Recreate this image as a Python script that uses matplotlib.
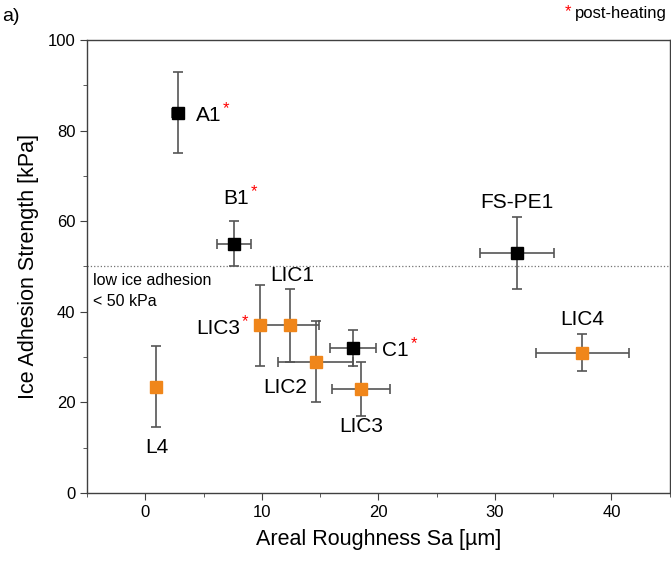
import numpy as np
import matplotlib
matplotlib.use("Agg")
import matplotlib.pyplot as plt
from matplotlib.ticker import MultipleLocator

plt.rcParams['font.family'] = ['Liberation Sans', 'DejaVu Sans']

# --- data ------------------------------------------------------------------
# black squares: reference surfaces
blk_names = ["A1", "B1", "C1", "FS-PE1"]
blk_x     = [2.8, 7.6, 17.8, 31.9]
blk_xerr  = [0.5, 1.5, 2.0, 3.2]
blk_y     = [84.0, 55.0, 32.0, 53.0]
blk_yerr  = [9.0, 5.0, 4.0, 8.0]

# orange squares: LIC / L samples
org_names = ["L4", "LIC3", "LIC1", "LIC2", "LIC3", "LIC4"]
org_x     = [0.9, 9.8, 12.4, 14.6, 18.5, 37.5]
org_xerr  = [0.3, 0.4, 2.5, 3.2, 2.5, 4.0]
org_y     = [23.5, 37.0, 37.0, 29.0, 23.0, 31.0]
org_yerr  = [9.0, 9.0, 8.0, 9.0, 6.0, 4.0]

THRESH = 50

COL_ORG = "#f0861a"
COL_ERR = "#555555"

fig = plt.figure(figsize=(6.71, 5.64), dpi=100)
ax = fig.add_axes([0.130, 0.126, 0.868, 0.803])

ax.errorbar(org_x, org_y, xerr=org_xerr, yerr=org_yerr, fmt="s", ms=9,
            mfc=COL_ORG, mec=COL_ORG, ecolor=COL_ERR, elinewidth=1.2,
            capsize=3.5, capthick=1.2, zorder=3)
ax.errorbar(blk_x, blk_y, xerr=blk_xerr, yerr=blk_yerr, fmt="s", ms=9,
            mfc="black", mec="black", ecolor=COL_ERR, elinewidth=1.2,
            capsize=3.5, capthick=1.2, zorder=3)

ax.axhline(THRESH, color="0.45", ls=":", lw=0.9, zorder=1)
ax.text(-4.5, 41.3, "low ice adhesion\n< 50 kPa", fontsize=11.5,
        va="baseline", ha="left", linespacing=1.45)

# point labels: (text, x, baseline y, ha, starred)
FS = 15
labels = [
    ("A1",     4.3, 82.1, "left",   True),
    ("B1",     7.8, 63.8, "center", True),
    ("FS-PE1", 31.9, 62.9, "center", False),
    ("LIC1",   12.6, 46.9, "center", False),
    ("LIC3",   8.1, 35.1, "right",  True),
    ("LIC2",   12.0, 22.0, "center", False),
    ("C1",     20.3, 30.3, "left",   True),
    ("LIC3",   18.5, 13.5, "center", False),
    ("LIC4",   37.5, 37.1, "center", False),
    ("L4",     1.0, 8.8, "center", False),
]
for txt, x, y, ha, star in labels:
    t = ax.text(x, y, txt, fontsize=FS, ha=ha, va="baseline")
    if star:
        ax.annotate("*", xy=(1, 1), xycoords=t, xytext=(1.5, 3.5),
                    textcoords="offset points", color="red", fontsize=12,
                    ha="left", va="top")

ax.set_xlim(-5, 45)
ax.set_ylim(0, 100)
ax.xaxis.set_major_locator(MultipleLocator(10))
ax.xaxis.set_minor_locator(MultipleLocator(5))
ax.yaxis.set_major_locator(MultipleLocator(20))
ax.yaxis.set_minor_locator(MultipleLocator(10))
ax.tick_params(which="both", direction="out", labelsize=12, top=False,
               right=False, color="0.25")
ax.tick_params(which="major", length=5)
ax.tick_params(which="minor", length=3)
for s in ax.spines.values():
    s.set_linewidth(1.0)
    s.set_color("0.25")

ax.set_xlabel("Areal Roughness Sa [µm]", fontsize=15.5, labelpad=7)
ax.set_ylabel("Ice Adhesion Strength [kPa]", fontsize=15.5, labelpad=6)

fig.text(0.003, 0.985, "a)", fontsize=14, ha="left", va="top")
fig.text(0.994, 0.99, "post-heating", fontsize=12, ha="right", va="top")
fig.text(0.847, 0.993, "*", color="red", fontsize=12, ha="center", va="top")

fig.savefig("out.png", dpi=100)
